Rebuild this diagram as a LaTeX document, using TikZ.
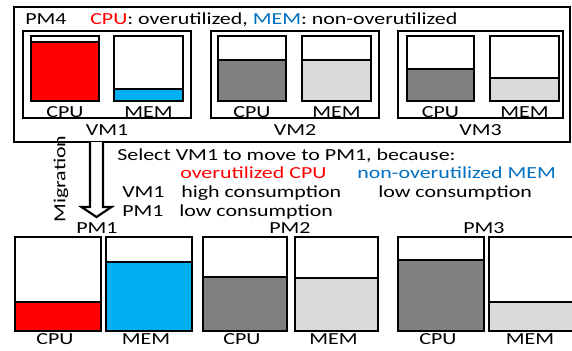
\documentclass[tikz,border=0pt]{standalone}
\usepackage{fontspec}
\setmainfont{Carlito}[FakeStretch=1.3]
\usetikzlibrary{calc}
\definecolor{cpured}{RGB}{255,0,0}
\definecolor{memfill}{RGB}{0,176,240}
\definecolor{memtext}{RGB}{0,112,192}
\definecolor{usedark}{RGB}{128,128,128}
\definecolor{uselight}{RGB}{217,217,217}
\tikzset{
  txt/.style={font=\fontsize{12pt}{14pt}\selectfont, inner sep=0pt},
  barbox/.style={draw, line width=1.8pt},
  vmbox/.style={draw, line width=1.5pt},
  levelline/.style={line width=1.2pt}
}
\begin{document}
\begin{tikzpicture}[x=0.025cm,y=-0.025cm]
        \useasboundingbox (0,0) rectangle (572,350);
        % PM4
        \draw[vmbox] (14,7) rectangle (570,142);
        \node[txt,anchor=base west] (pmfour) at (25,24) {PM4};
        \node[txt,anchor=base west] (state) at (90,24)
            {\textcolor{cpured}{CPU}: overutilized, \textcolor{memtext}{MEM}: non-overutilized};
        % VM boxes
        \foreach \l/\r/\name in {23/191/VM1,211/379/VM2,398/563/VM3} {
            \draw[vmbox] (\l,31) rectangle (\r,118);
            \node[txt,anchor=base] (\name) at ({(\l+\r)/2},135) {\name};
        }
        % VM bars
        \foreach \l/\r/\lev/\col/\lab in {31/99/42/cpured/CPU,114/183/89/memfill/MEM,
                218/286/60/usedark/CPU,302/371/60/uselight/MEM,
                407/474/69/usedark/CPU,490/559/78/uselight/MEM} {
            \fill[\col] (\l,\lev) rectangle (\r,101);
            \draw[levelline] (\l,\lev) -- (\r,\lev);
            \draw[barbox] (\l,36) rectangle (\r,101);
            \node[txt,anchor=base] at ({(\l+\r)/2},117) {\lab};
        }
        % Migration
        \coordinate (migfrom) at (96.5,142);
        \coordinate (migto) at (96.5,217);
        \draw[line width=1.5pt,fill=white] ($(migfrom)+(-6.5,0)$) -- ($(migto)+(-6.5,-10)$)
            -- ($(migto)+(-15,-10)$) -- (migto) -- ($(migto)+(15,-10)$)
            -- ($(migto)+(6.5,-10)$) -- ($(migfrom)+(6.5,0)$);
        \node[txt,rotate=90] (migration) at (61,179) {Migration};
        % reason
        \node[txt,anchor=base west] (select) at (117,160) {Select VM1 to move to PM1, because:};
        \node[txt,anchor=base west,text=cpured] (overcpu) at (180,178) {overutilized CPU};
        \node[txt,anchor=base west,text=memtext] (nonovermem) at (357,178) {non-overutilized MEM};
        \node[txt,anchor=base west] (vmrow) at (122,197) {VM1};
        \node[txt,anchor=base west] (vmcpu) at (181,197) {high consumption};
        \node[txt,anchor=base west] (vmmem) at (378,197) {low consumption};
        \node[txt,anchor=base west] (pmrow) at (122,216) {PM1};
        \node[txt,anchor=base west] (pmcpu) at (179,216) {low consumption};
        % PM1, PM2, PM3
        \foreach \x/\name in {97/PM1,290/PM2,484/PM3}
            \node[txt,anchor=base] (\name) at (\x,233) {\name};
        \foreach \l/\r/\lev/\col/\lab in {15/101/302/cpured/CPU,106/192/262/memfill/MEM,
                203/287/277/usedark/CPU,295/378/278/uselight/MEM,
                398/484/260/usedark/CPU,489/577/302/uselight/MEM} {
            \fill[\col] (\l,\lev) rectangle (\r,331);
            \draw[levelline] (\l,\lev) -- (\r,\lev);
            \draw[barbox] (\l,237) rectangle (\r,331);
            \node[txt,anchor=base] at ({(\l+\r)/2-3},344) {\lab};
        }
    \end{tikzpicture}
\end{document}
